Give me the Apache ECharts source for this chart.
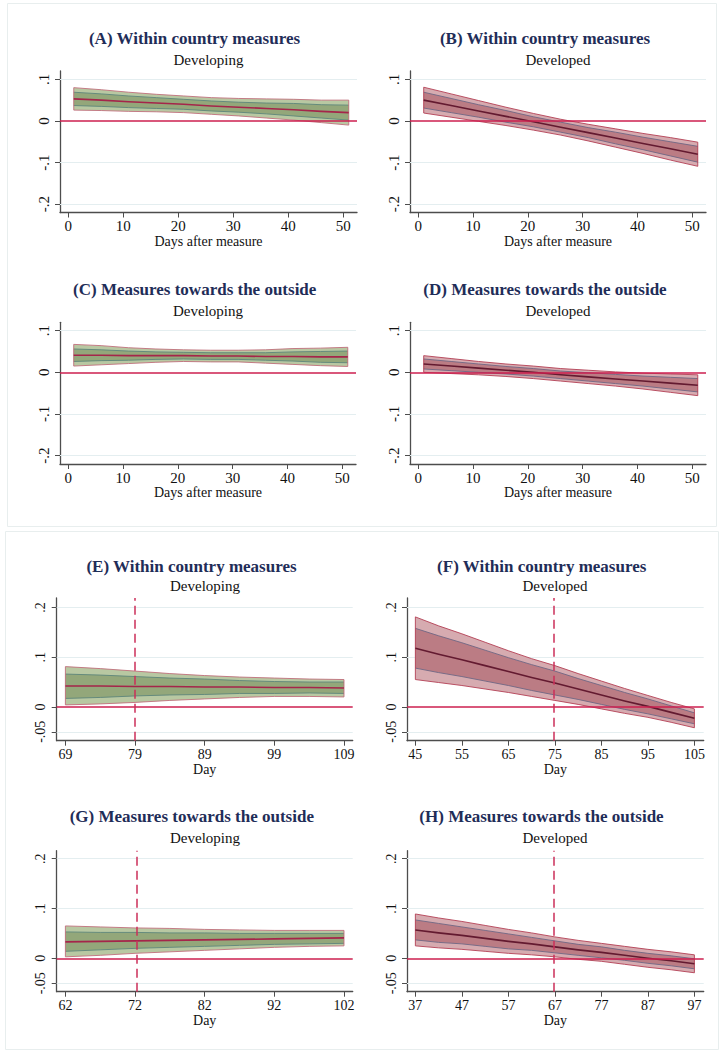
<!DOCTYPE html>
<html><head><meta charset="utf-8">
<script src="https://cdn.jsdelivr.net/npm/echarts@6/dist/echarts.min.js"></script>
<style>html,body{margin:0;padding:0;background:#fff}#c{width:723px;height:1053px}</style>
</head><body><div id="c"></div>
<script>
// ---------- data ----------
const daysAfter = [1, 6, 11, 16, 21, 26, 31, 36, 41, 46, 51];
const xTicksAfter = [0, 10, 20, 30, 40, 50];
const yTicksTop = [-0.2, -0.1, 0, 0.1];
const yTicksBottom = [-0.05, 0, 0.1, 0.2];

// (A) within country, developing
const aMean    = [0.053, 0.050, 0.046, 0.043, 0.040, 0.036, 0.033, 0.030, 0.027, 0.023, 0.020];
const aOuterLo = [0.026, 0.025, 0.023, 0.022, 0.020, 0.016, 0.012, 0.007, 0.002, -0.004, -0.010];
const aOuterHi = [0.080, 0.075, 0.069, 0.064, 0.060, 0.056, 0.054, 0.053, 0.052, 0.050, 0.050];
const aInnerLo = [0.037, 0.035, 0.032, 0.030, 0.028, 0.024, 0.021, 0.017, 0.012, 0.007, 0.002];
const aInnerHi = [0.069, 0.065, 0.060, 0.056, 0.052, 0.048, 0.045, 0.043, 0.042, 0.039, 0.038];

// (B) within country, developed
const bMean    = [0.050, 0.037, 0.024, 0.011, -0.002, -0.015, -0.028, -0.041, -0.054, -0.067, -0.080];
const bOuterLo = [0.019, 0.009, -0.001, -0.011, -0.022, -0.034, -0.048, -0.063, -0.078, -0.094, -0.109];
const bOuterHi = [0.081, 0.065, 0.049, 0.033, 0.018, 0.004, -0.008, -0.019, -0.030, -0.040, -0.051];
const bInnerLo = [0.031, 0.020, 0.009, -0.003, -0.014, -0.027, -0.040, -0.055, -0.069, -0.084, -0.099];
const bInnerHi = [0.069, 0.054, 0.039, 0.025, 0.010, -0.003, -0.016, -0.027, -0.039, -0.050, -0.061];

// (C) towards the outside, developing
const cMean    = [0.041, 0.041, 0.040, 0.040, 0.040, 0.039, 0.039, 0.038, 0.038, 0.037, 0.037];
const cOuterLo = [0.015, 0.018, 0.021, 0.024, 0.026, 0.025, 0.025, 0.022, 0.019, 0.016, 0.014];
const cOuterHi = [0.067, 0.064, 0.059, 0.056, 0.054, 0.053, 0.053, 0.054, 0.057, 0.058, 0.060];
const cInnerLo = [0.026, 0.028, 0.029, 0.031, 0.032, 0.031, 0.031, 0.029, 0.027, 0.024, 0.023];
const cInnerHi = [0.056, 0.054, 0.051, 0.049, 0.048, 0.047, 0.047, 0.047, 0.049, 0.050, 0.051];

// (D) towards the outside, developed
const dMean    = [0.020, 0.015, 0.010, 0.005, 0.000, -0.006, -0.011, -0.016, -0.021, -0.026, -0.031];
const dOuterLo = [0.000, -0.003, -0.006, -0.010, -0.015, -0.021, -0.027, -0.033, -0.040, -0.048, -0.056];
const dOuterHi = [0.040, 0.033, 0.026, 0.020, 0.015, 0.009, 0.005, 0.001, -0.002, -0.004, -0.006];
const dInnerLo = [0.008, 0.004, 0.000, -0.004, -0.009, -0.015, -0.021, -0.027, -0.033, -0.040, -0.047];
const dInnerHi = [0.032, 0.026, 0.020, 0.014, 0.009, 0.003, -0.001, -0.005, -0.009, -0.012, -0.015];

// (E) within country, developing, by day
const eDays    = [69, 74, 79, 84, 89, 94, 99, 104, 109];
const eTicks   = [69, 79, 89, 99, 109];
const eCutoff  = 79;
const eMean    = [0.042, 0.042, 0.041, 0.041, 0.040, 0.040, 0.039, 0.039, 0.038];
const eOuterLo = [0.004, 0.006, 0.009, 0.013, 0.016, 0.019, 0.021, 0.021, 0.020];
const eOuterHi = [0.081, 0.077, 0.072, 0.067, 0.063, 0.060, 0.058, 0.056, 0.055];
const eInnerLo = [0.017, 0.019, 0.022, 0.024, 0.025, 0.027, 0.027, 0.028, 0.027];
const eInnerHi = [0.066, 0.064, 0.061, 0.058, 0.056, 0.053, 0.051, 0.050, 0.050];

// (F) within country, developed, by day
const fDays    = [45, 50, 55, 60, 65, 70, 75, 80, 85, 90, 95, 100, 105];
const fTicks   = [45, 55, 65, 75, 85, 95, 105];
const fCutoff  = 74.8;
const fMean    = [0.118, 0.106, 0.095, 0.083, 0.071, 0.059, 0.048, 0.036, 0.024, 0.012, 0.001, -0.011, -0.023];
const fOuterLo = [0.055, 0.049, 0.043, 0.036, 0.029, 0.021, 0.013, 0.005, -0.004, -0.013, -0.021, -0.031, -0.042];
const fOuterHi = [0.181, 0.163, 0.147, 0.130, 0.113, 0.097, 0.083, 0.067, 0.052, 0.037, 0.023, 0.009, -0.004];
const fInnerLo = [0.078, 0.069, 0.061, 0.052, 0.043, 0.033, 0.024, 0.015, 0.005, -0.005, -0.014, -0.024, -0.034];
const fInnerHi = [0.158, 0.143, 0.129, 0.114, 0.099, 0.085, 0.072, 0.057, 0.043, 0.029, 0.016, 0.002, -0.012];

// (G) towards the outside, developing, by day
const gDays    = [62, 67, 72, 77, 82, 87, 92, 97, 102];
const gTicks   = [62, 72, 82, 92, 102];
const gCutoff  = 72.3;
const gMean    = [0.033, 0.034, 0.035, 0.036, 0.037, 0.038, 0.039, 0.040, 0.041];
const gOuterLo = [0.003, 0.006, 0.010, 0.013, 0.016, 0.019, 0.022, 0.024, 0.025];
const gOuterHi = [0.065, 0.063, 0.061, 0.060, 0.058, 0.057, 0.056, 0.056, 0.056];
const gInnerLo = [0.014, 0.017, 0.020, 0.022, 0.024, 0.026, 0.028, 0.029, 0.030];
const gInnerHi = [0.053, 0.052, 0.052, 0.051, 0.051, 0.050, 0.050, 0.050, 0.050];

// (H) towards the outside, developed, by day
const hDays    = [37, 42, 47, 52, 57, 62, 67, 72, 77, 82, 87, 92, 97];
const hTicks   = [37, 47, 57, 67, 77, 87, 97];
const hCutoff  = 66.7;
const hMean    = [0.057, 0.051, 0.046, 0.040, 0.034, 0.029, 0.023, 0.017, 0.012, 0.006, 0.000, -0.005, -0.011];
const hOuterLo = [0.025, 0.021, 0.018, 0.014, 0.010, 0.007, 0.003, -0.002, -0.006, -0.012, -0.018, -0.023, -0.029];
const hOuterHi = [0.089, 0.081, 0.074, 0.066, 0.058, 0.051, 0.043, 0.036, 0.030, 0.024, 0.018, 0.013, 0.007];
const hInnerLo = [0.037, 0.032, 0.029, 0.024, 0.019, 0.016, 0.011, 0.006, 0.001, -0.004, -0.010, -0.015, -0.021];
const hInnerHi = [0.077, 0.070, 0.063, 0.056, 0.049, 0.042, 0.035, 0.028, 0.023, 0.016, 0.010, 0.005, -0.001];

const titles = ['(A) Within country measures', '(B) Within country measures',
  '(C) Measures towards the outside', '(D) Measures towards the outside',
  '(E) Within country measures', '(F) Within country measures',
  '(G) Measures towards the outside', '(H) Measures towards the outside'];
const subtitles = ['Developing', 'Developed', 'Developing', 'Developed',
  'Developing', 'Developed', 'Developing', 'Developed'];

// ---------- styles ----------
const FONT = "'Liberation Serif', 'DejaVu Serif', serif";
const GREEN = {outerFill: '#b8c8a2', innerFill: '#93a77a', innerEdge: '#5d867a', outerEdge: '#bf6f7c', mean: '#a5254a'};
const RED = {outerFill: '#d6abb0', innerFill: '#bb7c84', innerEdge: '#6f6683', outerEdge: '#b33f55', mean: '#631a30'};
const ZERO = '#cc1f4f';

const panels = [
  {days: daysAfter, mean: aMean, oLo: aOuterLo, oHi: aOuterHi, iLo: aInnerLo, iHi: aInnerHi, col: GREEN,
   grid: {left: 60, top: 71, width: 297, height: 141.5}, x: [-1.5, 52.5], y: [-0.22, 0.12], xt: xTicksAfter, yt: yTicksTop,
   name: 'Days after measure', tx: 194.5, ty: 38, sx: 208.5, sy: 59.5, fs: 15, ns: 14, lm: 6, ng: 21},
  {days: daysAfter, mean: bMean, oLo: bOuterLo, oHi: bOuterHi, iLo: bInnerLo, iHi: bInnerHi, col: RED,
   grid: {left: 410, top: 71, width: 296, height: 141.5}, x: [-1.5, 52.5], y: [-0.22, 0.12], xt: xTicksAfter, yt: yTicksTop,
   name: 'Days after measure', tx: 545, ty: 38, sx: 558, sy: 59.5, fs: 15, ns: 14, lm: 6, ng: 21},
  {days: daysAfter, mean: cMean, oLo: cOuterLo, oHi: cOuterHi, iLo: cInnerLo, iHi: cInnerHi, col: GREEN,
   grid: {left: 60, top: 322.3, width: 296, height: 141.7}, x: [-1.5, 52.5], y: [-0.22, 0.12], xt: xTicksAfter, yt: yTicksTop,
   name: 'Days after measure', tx: 194.7, ty: 289.3, sx: 208, sy: 310.7, fs: 15, ns: 14, lm: 6, ng: 21},
  {days: daysAfter, mean: dMean, oLo: dOuterLo, oHi: dOuterHi, iLo: dInnerLo, iHi: dInnerHi, col: RED,
   grid: {left: 410, top: 322.3, width: 296, height: 141.7}, x: [-1.5, 52.5], y: [-0.22, 0.12], xt: xTicksAfter, yt: yTicksTop,
   name: 'Days after measure', tx: 545, ty: 289.3, sx: 558, sy: 310.7, fs: 15, ns: 14, lm: 6, ng: 21},
  {days: eDays, mean: eMean, oLo: eOuterLo, oHi: eOuterHi, iLo: eInnerLo, iHi: eInnerHi, col: GREEN, cut: eCutoff,
   grid: {left: 56.7, top: 598, width: 296, height: 142.7}, x: [67.75, 110.25], y: [-0.068, 0.219], xt: eTicks, yt: yTicksBottom,
   name: 'Day', tx: 191.5, ty: 566, sx: 205, sy: 586, fs: 14, ns: 14, lm: 7, ng: 22},
  {days: fDays, mean: fMean, oLo: fOuterLo, oHi: fOuterHi, iLo: fInnerLo, iHi: fInnerHi, col: RED, cut: fCutoff,
   grid: {left: 407, top: 598, width: 296.7, height: 142.7}, x: [43.2, 107], y: [-0.068, 0.219], xt: fTicks, yt: yTicksBottom,
   name: 'Day', tx: 541.7, ty: 566, sx: 555, sy: 586, fs: 14, ns: 14, lm: 7, ng: 22},
  {days: gDays, mean: gMean, oLo: gOuterLo, oHi: gOuterHi, iLo: gInnerLo, iHi: gInnerHi, col: GREEN, cut: gCutoff,
   grid: {left: 56.7, top: 850.7, width: 296, height: 141}, x: [60.75, 103.25], y: [-0.067, 0.216], xt: gTicks, yt: yTicksBottom,
   name: 'Day', tx: 191.8, ty: 816.7, sx: 205, sy: 838.3, fs: 14, ns: 14, lm: 7, ng: 22},
  {days: hDays, mean: hMean, oLo: hOuterLo, oHi: hOuterHi, iLo: hInnerLo, iHi: hInnerHi, col: RED, cut: hCutoff,
   grid: {left: 407, top: 850.7, width: 296.7, height: 141}, x: [35.2, 99], y: [-0.067, 0.216], xt: hTicks, yt: yTicksBottom,
   name: 'Day', tx: 541.5, ty: 816.7, sx: 555, sy: 838.3, fs: 14, ns: 14, lm: 7, ng: 22}
];

function fmtY(v) {
  if (v === 0) return '0';
  return String(v).replace('0.', '.');
}

function bandRender(p) {
  const c = p.col;
  return function (params, api) {
    if (params.dataIndex !== 0) return null;
    const pts = arr => p.days.map((d, i) => api.coord([d, arr[i]]));
    const oHi = pts(p.oHi), oLo = pts(p.oLo), iHi = pts(p.iHi), iLo = pts(p.iLo), m = pts(p.mean);
    const outer = oHi.concat(oLo.slice().reverse());
    const inner = iHi.concat(iLo.slice().reverse());
    return {
      type: 'group',
      children: [
        {type: 'polygon', shape: {points: outer}, style: {fill: c.outerFill, stroke: 'none'}},
        {type: 'polygon', shape: {points: inner}, style: {fill: c.innerFill, stroke: 'none'}},
        {type: 'polyline', shape: {points: iHi}, style: {stroke: c.innerEdge, lineWidth: 0.9, fill: 'none'}},
        {type: 'polyline', shape: {points: iLo}, style: {stroke: c.innerEdge, lineWidth: 0.9, fill: 'none'}},
        {type: 'polygon', shape: {points: outer}, style: {fill: 'none', stroke: c.outerEdge, lineWidth: 0.9}},
        {type: 'polyline', shape: {points: m}, style: {stroke: c.mean, lineWidth: 1.6, fill: 'none'}}
      ]
    };
  };
}

const grid = [], xAxis = [], yAxis = [], series = [], graphic = [];
const axisColor = '#4d4d4d';

graphic.push({type: 'rect', shape: {x: 7.5, y: 3.5, width: 709, height: 523}, style: {fill: 'none', stroke: '#e8eeee', lineWidth: 1}, silent: true});
graphic.push({type: 'rect', shape: {x: 5.5, y: 531.5, width: 713, height: 518}, style: {fill: 'none', stroke: '#e8eeee', lineWidth: 1}, silent: true});

panels.forEach((p, i) => {
  grid.push(Object.assign({containLabel: false}, p.grid));
  xAxis.push({
    gridIndex: i, type: 'value', min: p.x[0], max: p.x[1],
    axisLine: {show: true, onZero: false, lineStyle: {color: axisColor, width: 1.3}},
    axisTick: {show: true, customValues: p.xt, length: 5, lineStyle: {color: axisColor, width: 1}},
    axisLabel: {customValues: p.xt, margin: p.lm, fontFamily: FONT, fontSize: p.fs, color: '#111'},
    splitLine: {show: false},
    name: p.name, nameLocation: 'middle', nameGap: p.ng,
    nameTextStyle: {fontFamily: FONT, fontSize: p.ns, color: '#111'}
  });
  yAxis.push({
    gridIndex: i, type: 'value', min: p.y[0], max: p.y[1],
    axisLine: {show: true, onZero: false, lineStyle: {color: axisColor, width: 1.3}},
    axisTick: {show: true, customValues: p.yt, length: 5, lineStyle: {color: axisColor, width: 1}},
    axisLabel: {customValues: p.yt, rotate: 90, margin: 9, formatter: fmtY, fontFamily: FONT, fontSize: p.fs, color: '#111'},
    splitLine: {show: false}
  });
  // grid lines
  series.push({
    type: 'line', xAxisIndex: i, yAxisIndex: i, data: [], silent: true, z: 1,
    markLine: {
      silent: true, z: 1, symbol: ['none', 'none'], label: {show: false}, animation: false,
      lineStyle: {color: '#e4eef0', type: 'solid', width: 1},
      data: p.yt.filter(v => v !== 0).map(v => ({yAxis: v}))
    }
  });
  // bands
  const refs = [{yAxis: 0, lineStyle: {color: ZERO, type: 'solid', width: 1.5}}];
  if (p.cut !== undefined) refs.push({xAxis: p.cut, lineStyle: {color: '#cc2f5a', type: [9, 5], width: 1.5}});
  series.push({
    type: 'custom', xAxisIndex: i, yAxisIndex: i, z: 3, silent: true,
    data: p.days.map((d, k) => [d, p.mean[k]]),
    encode: {x: 0, y: 1},
    renderItem: bandRender(p),
    markLine: {silent: true, z: 5, symbol: ['none', 'none'], label: {show: false}, animation: false, data: refs}
  });
  graphic.push({type: 'text', x: p.tx, y: p.ty, silent: true,
    style: {text: titles[i], font: "bold 17px " + FONT, fill: '#1f2d58', align: 'center', verticalAlign: 'middle'}});
  graphic.push({type: 'text', x: p.sx, y: p.sy, silent: true,
    style: {text: subtitles[i], font: "15px " + FONT, fill: '#111', align: 'center', verticalAlign: 'middle'}});
});

const chart = echarts.init(document.getElementById('c'), null, {renderer: 'svg'});
chart.setOption({animation: false, backgroundColor: '#fff', grid, xAxis, yAxis, series, graphic});
</script>
</body></html>
